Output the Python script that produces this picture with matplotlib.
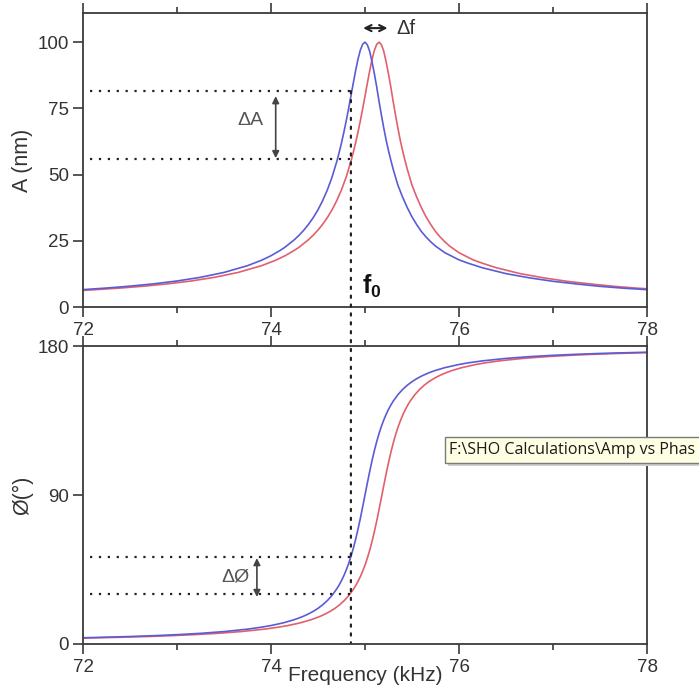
import matplotlib
matplotlib.use("Agg")
import matplotlib.pyplot as plt
from matplotlib.patches import ConnectionPatch, Rectangle
from matplotlib.ticker import MultipleLocator, FixedLocator

plt.rcParams['font.family'] = ['Liberation Sans', 'DejaVu Sans']
plt.rcParams['mathtext.fontset'] = 'custom'
plt.rcParams['mathtext.rm'] = 'Liberation Sans'
plt.rcParams['mathtext.bf'] = 'Liberation Sans:bold'

# ---------------- data ----------------
freq_blue = [72.0, 72.25, 72.5, 72.75, 73.0, 73.25, 73.5, 73.75, 73.9, 74.0, 74.1,
             74.15, 74.25, 74.3, 74.35, 74.4, 74.45, 74.5, 74.55, 74.6, 74.65, 74.7,
             74.725, 74.75, 74.775, 74.8, 74.825, 74.85, 74.875, 74.9, 74.925, 74.95,
             74.975, 75.0, 75.025, 75.05, 75.075, 75.1, 75.125, 75.15, 75.175, 75.2,
             75.225, 75.25, 75.275, 75.3, 75.35, 75.4, 75.45, 75.5, 75.55, 75.6, 75.65,
             75.7, 75.75, 75.85, 76.0, 76.1, 76.25, 76.5, 76.75, 77.0, 77.25, 77.5,
             77.75, 78.0]
amp_blue = [6.56, 7.16, 7.87, 8.74, 9.82, 11.21, 13.05, 15.6, 17.66, 19.36, 21.42,
            22.6, 25.45, 27.14, 29.05, 31.25, 33.78, 36.71, 40.2, 44.25, 49.1, 54.97,
            58.31, 61.96, 65.94, 70.24, 74.82, 79.61, 84.48, 89.2, 93.48, 96.94,
            99.21, 100.0, 99.0, 96.5, 92.5, 88.0, 83.0, 77.5, 72.4, 67.5,
            63.0, 59.0, 55.4, 52.0, 46.0, 41.5, 37.5, 34.0, 31.1, 28.5, 26.4,
            24.6, 23.0, 20.5, 17.8, 16.5, 14.8, 12.6, 11.0, 9.7, 8.7, 7.8,
            7.1, 6.55]
phase_blue = [3.76, 4.11, 4.51, 5.01, 5.64, 6.43, 7.5, 8.97, 10.17, 11.16, 12.37,
              13.07, 14.74, 15.75, 16.89, 18.21, 19.74, 21.54, 23.68, 26.26, 29.42, 33.34,
              35.67, 38.28, 41.26, 44.62, 48.44, 52.77, 57.65, 63.12, 69.19, 75.79,
              82.78, 90.0, 97.22, 104.21, 110.81, 116.88, 122.35, 127.23, 131.56, 135.38,
              138.74, 141.72, 144.33, 146.66, 150.58, 153.74, 156.32, 158.46, 160.26,
              161.79, 163.11, 164.25, 165.26, 166.93, 168.84, 169.83, 171.03, 172.5,
              173.57, 174.36, 174.99, 175.49, 175.89, 176.24]

freq_red_amp = [72.0, 72.4, 72.65, 72.9, 73.15, 73.4, 73.65, 73.9, 74.05, 74.15, 74.25,
                74.3, 74.4, 74.45, 74.5, 74.55, 74.6, 74.65, 74.7, 74.75, 74.8, 74.85,
                74.875, 74.9, 74.925, 74.95, 74.975, 75.0, 75.025, 75.05, 75.075, 75.1,
                75.125, 75.15, 75.175, 75.2, 75.225, 75.25, 75.275, 75.3, 75.325, 75.35,
                75.375, 75.4, 75.425, 75.45, 75.5, 75.55, 75.6, 75.65, 75.7, 75.75, 75.8,
                75.85, 75.9, 76.0, 76.15, 76.25, 76.4, 76.65, 76.9, 77.15, 77.4, 77.65,
                77.9, 78.0]
amp_red = [6.25, 7.16, 7.87, 8.74, 9.82, 11.21, 13.05, 15.6, 17.66, 19.36, 21.42,
           22.6, 25.45, 27.14, 29.05, 31.25, 33.78, 36.71, 40.2, 44.25, 49.1, 54.97,
           58.31, 61.96, 65.94, 70.24, 74.82, 79.61, 84.48, 89.2, 93.48, 96.94,
           99.21, 100.0, 99.0, 96.5, 92.5, 88.0, 83.0, 77.5, 72.4, 67.5,
           63.0, 59.0, 55.4, 52.0, 46.0, 41.5, 37.5, 34.0, 31.1, 28.5, 26.4,
           24.6, 23.0, 20.5, 17.8, 16.5, 14.8, 12.6, 11.0, 9.7, 8.7, 7.8,
           7.1, 6.9]

freq_red_phase = [72.0, 72.43, 72.68, 72.93, 73.18, 73.43, 73.68, 73.93, 74.08, 74.18,
                  74.28, 74.33, 74.43, 74.48, 74.53, 74.58, 74.63, 74.68, 74.73, 74.78,
                  74.83, 74.88, 74.905, 74.93, 74.955, 74.98, 75.005, 75.03, 75.055,
                  75.08, 75.105, 75.13, 75.155, 75.18, 75.205, 75.23, 75.255, 75.28,
                  75.305, 75.33, 75.355, 75.38, 75.405, 75.43, 75.455, 75.48, 75.53,
                  75.58, 75.63, 75.68, 75.73, 75.78, 75.83, 75.88, 75.93, 76.03, 76.18,
                  76.28, 76.43, 76.68, 76.93, 77.18, 77.43, 77.68, 77.93, 78.0]
phase_red = [3.55, 4.11, 4.51, 5.01, 5.64, 6.43, 7.5, 8.97, 10.17, 11.16, 12.37,
             13.07, 14.74, 15.75, 16.89, 18.21, 19.74, 21.54, 23.68, 26.26, 29.42, 33.34,
             35.67, 38.28, 41.26, 44.62, 48.44, 52.77, 57.65, 63.12, 69.19, 75.79,
             82.78, 90.0, 97.22, 104.21, 110.81, 116.88, 122.35, 127.23, 131.56, 135.38,
             138.74, 141.72, 144.33, 146.66, 150.58, 153.74, 156.32, 158.46, 160.26,
             161.79, 163.11, 164.25, 165.26, 166.93, 168.84, 169.83, 171.03, 172.5,
             173.57, 174.36, 174.99, 175.49, 175.89, 176.0]

x_ticks = [72, 74, 76, 78]
amp_ticks = [0, 25, 50, 75, 100]
phase_ticks = [0, 90, 180]

f0_marker = 74.85
dA_levels = [81.5, 55.8]
dphi_levels = [52.5, 30.2]
tooltip_text = "F:\\SHO Calculations\\Amp vs Phas"

# ---------------- figure ----------------
W, H = 699, 693
fig = plt.figure(figsize=(W / 100, H / 100), dpi=100)

def ax_rect(l, t, r, b):
    return [l / W, 1 - b / H, (r - l) / W, (b - t) / H]

ax1 = fig.add_axes(ax_rect(83, 13, 647, 307))
ax2 = fig.add_axes(ax_rect(83, 346, 647, 644))

blue = '#5b5bd6'
red = '#e0606e'
spine_col = '#3a3a3a'
txt_col = '#333333'

for ax in (ax1, ax2):
    for s in ax.spines.values():
        s.set_color(spine_col)
        s.set_linewidth(1.3)
    ax.set_xlim(72, 78)
    ax.xaxis.set_major_locator(FixedLocator(x_ticks))
    ax.xaxis.set_minor_locator(MultipleLocator(1))
    ax.tick_params(axis='x', which='both', direction='out', top=True, bottom=True,
                   color=spine_col, labelcolor=txt_col, labelsize=13.5, pad=4)
    ax.tick_params(axis='x', which='major', length=7, width=1.2)
    ax.tick_params(axis='x', which='minor', length=4, width=1.2)
    ax.tick_params(axis='y', which='major', direction='out', length=7, width=1.2,
                   color=spine_col, labelcolor=txt_col, labelsize=13.5, pad=3,
                   right=False, left=True)

# top panel: amplitude
ax1.plot(freq_red_amp, amp_red, color=red, lw=1.2)
ax1.plot(freq_blue, amp_blue, color=blue, lw=1.2)
ax1.set_ylim(0, 111)
ax1.yaxis.set_major_locator(FixedLocator(amp_ticks))
ax1.set_ylabel('A (nm)', fontsize=15.5, color=txt_col)
ax1.yaxis.set_label_coords(-0.088, 0.5)

# bottom panel: phase
ax2.plot(freq_red_phase, phase_red, color=red, lw=1.2)
ax2.plot(freq_blue, phase_blue, color=blue, lw=1.2)
ax2.set_ylim(0, 180)
ax2.yaxis.set_major_locator(FixedLocator(phase_ticks))
ax2.set_ylabel('Ø(°)', fontsize=15.5, color=txt_col)
ax2.yaxis.set_label_coords(-0.088, 0.5)
ax2.set_xlabel('Frequency (kHz)', fontsize=15, color=txt_col)
ax2.xaxis.set_label_coords(0.5, -0.075)

dot = dict(color='#222222', lw=1.6, linestyle=(0, (1, 3)))

# horizontal dotted guides
for lv in dA_levels:
    ax1.plot([72.07, f0_marker], [lv, lv], **dot)
for lv in dphi_levels:
    ax2.plot([72.07, f0_marker], [lv, lv], **dot)

# vertical dotted line through both panels
con = ConnectionPatch(xyA=(f0_marker, dA_levels[0]), coordsA=ax1.transData,
                      xyB=(f0_marker, 0.8), coordsB=ax2.transData,
                      arrowstyle='-', color='#222222', lw=1.6,
                      linestyle=(0, (1, 3)))
fig.add_artist(con)

# arrows
ax1.annotate('', xy=(74.05, 56.2), xytext=(74.05, 79.6),
             arrowprops=dict(arrowstyle='<|-|>', color='#444444', lw=1.2,
                             mutation_scale=10, shrinkA=0, shrinkB=0))
ax1.text(73.78, 70.3, 'ΔA', fontsize=14, color='#555555', ha='center', va='center')

ax2.annotate('', xy=(73.85, 28.4), xytext=(73.85, 51.9),
             arrowprops=dict(arrowstyle='<|-|>', color='#444444', lw=1.2,
                             mutation_scale=10, shrinkA=0, shrinkB=0))
ax2.text(73.62, 40.5, 'ΔØ', fontsize=14, color='#555555', ha='center', va='center')

ax1.annotate('', xy=(74.98, 105.3), xytext=(75.24, 105.3),
             arrowprops=dict(arrowstyle='<->', color='#222222', lw=1.5,
                             mutation_scale=11, shrinkA=0, shrinkB=0))
ax1.text(75.33, 105.3, 'Δf', fontsize=14.5, color='#333333', ha='left', va='center')

ax1.text(74.965, 2.5, r'$\mathbf{f_0}$', fontsize=18, color='#111111',
         ha='left', va='bottom')

# tooltip overlay
shadow = Rectangle((448 / W, 1 - 466 / H), (710 - 448) / W, 26 / H,
                   transform=fig.transFigure, facecolor='#cfcfcf',
                   edgecolor='none', zorder=10)
box = Rectangle((445 / W, 1 - 463 / H), (710 - 445) / W, 26 / H,
                transform=fig.transFigure, facecolor='#ffffe3',
                edgecolor='#7a7a7a', lw=1.0, zorder=11)
fig.add_artist(shadow)
fig.add_artist(box)
fig.text(449 / W, 1 - 450.5 / H, tooltip_text, fontsize=11.5, color='#1a1a1a',
         family=['Open Sans', 'DejaVu Sans'], ha='left', va='center', zorder=12)

fig.savefig('out.png', dpi=100)
